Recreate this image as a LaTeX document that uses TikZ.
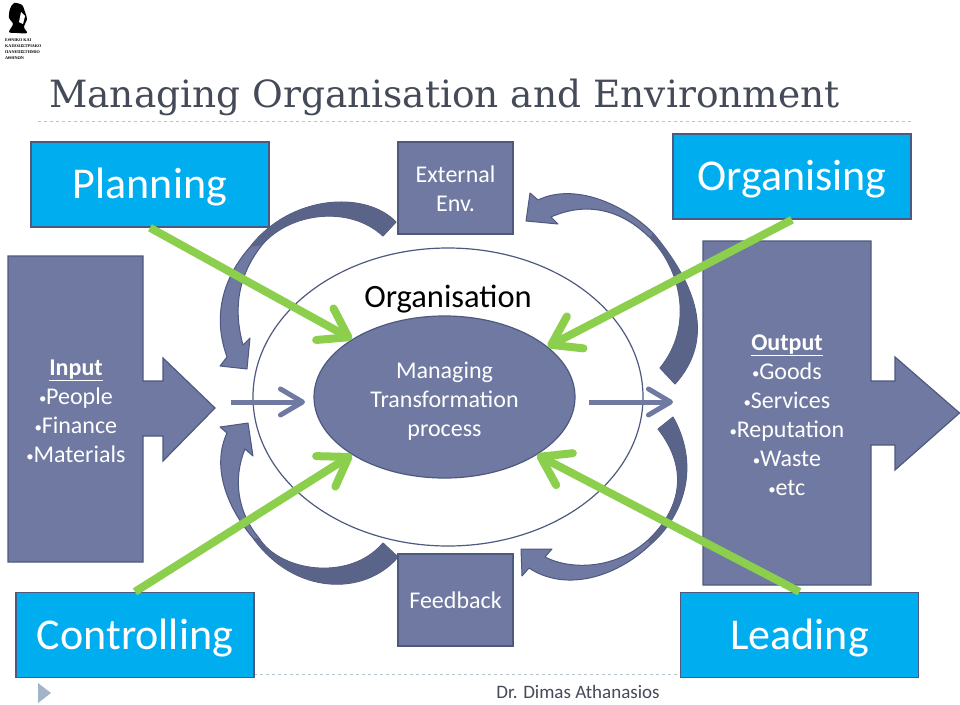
\documentclass[tikz,border=0pt]{standalone}
\usepackage{fontspec}
\setmainfont{Carlito}
\newfontfamily\titlefont{DejaVu Serif}
\newfontfamily\logofont{Liberation Serif}
\usepackage{xcolor}
\usetikzlibrary{arrows.meta,shapes.geometric}
\definecolor{slateblue}{RGB}{111,121,161}
\definecolor{slatedark}{RGB}{90,100,136}
\definecolor{slateline}{RGB}{78,89,128}
\definecolor{skycyan}{RGB}{0,174,239}
\definecolor{leafgreen}{RGB}{140,207,77}
\definecolor{titlegrey}{RGB}{68,74,88}
\definecolor{dashgrey}{RGB}{184,196,204}
\definecolor{markblue}{RGB}{162,180,200}
\newcommand{\bul}{\makebox[7pt]{\raisebox{1pt}{\scalebox{.62}{•}}}}
\begin{document}
\begin{tikzpicture}[x=1pt,y=-1pt,
          topbox/.style={draw=slateline,fill=skycyan,line width=1.5pt,text=white,
                      minimum width=238pt,minimum height=85pt,inner sep=0pt,
                      text height=28pt,text depth=0pt,
                      font=\fontsize{44}{48}\selectfont},
          envbox/.style={draw=slateline,fill=slateblue,line width=1.2pt,text=white,
                      minimum width=115pt,minimum height=92pt,inner sep=0pt,align=center,
                      font=\fontsize{24}{28.5}\selectfont},
          bodytext/.style={text=white,align=center,inner sep=0pt,
                      font=\fontsize{24}{29}\selectfont},
          blockarrow/.style={draw=slateline,fill=slateblue,line width=1.2pt},
          curvearrow/.style={draw=slateline,fill=slateblue,line width=1pt,line join=round},
          curvedark/.style={fill=slatedark},
          greenarrow/.style={draw=leafgreen,line width=8pt,
                      -{Straight Barb[length=27pt,width=36pt,line width=8pt,round]}},
          greyarrow/.style={draw=slateblue,line width=5pt,
                      -{Straight Barb[length=22pt,width=26pt,line width=5pt,round]}}]
        \useasboundingbox (0,0) rectangle (960,704);
        \fill[white] (0,0) rectangle (960,704);
        \draw[dashgrey,line width=1pt,dashed] (38,121) -- (912,121);
        \draw[dashgrey,line width=1pt,dashed] (38,674) -- (912,674);
        \fill[markblue] (38,683) -- (51,693) -- (38,703) -- cycle;
        \fill[black] plot[smooth cycle] coordinates {(14,3) (22,5) (25,12) (27,19) (24,27)
          (27,33) (17,33) (9,32) (13,24) (9,18) (10,9)};
        \fill[white] (21,12) -- (25,16) -- (23,24) -- (19,22) -- cycle;
        \node[anchor=west,inner sep=0pt,align=left,text=black,
              font=\logofont\bfseries\fontsize{4.2}{6}\selectfont] (logotext) at (5,49.5)
          {ΕΘΝΙΚΟ ΚΑΙ\\ΚΑΠΟΔΙΣΤΡΙΑΚΟ\\ΠΑΝΕΠΙΣΤΗΜΙΟ\\ΑΘΗΝΩΝ};
        \node[anchor=base west,inner sep=0pt,text=titlegrey,
              font=\titlefont\fontsize{37.5}{42}\selectfont] (title) at (49,107)
          {Managing Organisation and Environment};
        \draw[curvearrow] (396,222) .. controls (365,190) and (290,195) .. (250,247)
          .. controls (228,272) and (210,310) .. (227,357)
          -- (220,366) -- (247,369) -- (250,338) -- (243,345)
          .. controls (234,312) and (236,278) .. (262,245)
          .. controls (290,212) and (350,205) .. (383,236) -- cycle;
        \fill[curvedark] (396,222) .. controls (365,190) and (290,195) .. (250,247)
          -- (262,245) .. controls (290,212) and (350,205) .. (383,236) -- cycle;
        \draw[curvearrow] (398,557) .. controls (365,596) and (295,596) .. (253,538)
          .. controls (225,505) and (212,465) .. (227,433)
          -- (220,427) -- (248,423) -- (253,456) -- (245,449)
          .. controls (233,478) and (237,512) .. (259,538)
          .. controls (280,572) and (350,582) .. (383,543) -- cycle;
        \fill[curvedark] (398,557) .. controls (365,596) and (295,596) .. (253,538)
          -- (259,538) .. controls (280,572) and (350,582) .. (383,543) -- cycle;
        \draw[curvearrow] (675,384) .. controls (710,345) and (705,295) .. (653,233)
          .. controls (625,205) and (575,182) .. (538,200)
          -- (530,193) -- (526,221) -- (558,224) -- (551,217)
          .. controls (585,202) and (620,208) .. (650,238)
          .. controls (680,268) and (695,325) .. (660,368) -- cycle;
        \fill[curvedark] (675,384) .. controls (710,345) and (705,295) .. (653,233)
          -- (650,238) .. controls (680,268) and (695,325) .. (660,368) -- cycle;
        \draw[curvearrow] (673,417) .. controls (700,465) and (685,515) .. (650,545)
          .. controls (615,578) and (565,592) .. (529,568)
          -- (522,576) -- (521,549) -- (552,549) -- (545,557)
          .. controls (570,570) and (615,570) .. (648,540)
          .. controls (680,510) and (690,470) .. (658,429) -- cycle;
        \fill[curvedark] (673,417) .. controls (700,465) and (685,515) .. (650,545)
          -- (648,540) .. controls (680,510) and (690,470) .. (658,429) -- cycle;
        \draw[blockarrow] (8,256) -- (143,256) -- (143,381) -- (163,381) -- (163,358) -- (215,408)
          -- (163,461) -- (163,436) -- (143,436) -- (143,562) -- (8,562) -- cycle;
        \draw[blockarrow] (703,241) -- (871,241) -- (871,381) -- (895,381) -- (895,357) -- (959.5,413)
          -- (895,470) -- (895,445) -- (871,445) -- (871,585) -- (703,585) -- cycle;
        \node[bodytext] (inputtext) at (76,411)
          {\textbf{\underline{Input}}\\\bul People\\\bul Finance\\\bul Materials};
        \node[bodytext] (outputtext) at (787,415)
          {\textbf{\underline{Output}}\\\bul Goods\\\bul Services\\\bul Reputation\\\bul Waste\\\bul etc};
        \node[draw=slateline,line width=1.2pt,ellipse,minimum width=390pt,minimum height=298pt,
              inner sep=0pt] (org) at (448,397) {};
        \node[inner sep=0pt,text=black,font=\fontsize{32.5}{36}\selectfont] (orglabel) at (448,299.5) {Organisation};
        \node[draw=slateline,fill=slateblue,line width=1.2pt,ellipse,minimum width=261pt,
              minimum height=162pt,inner sep=0pt] (manage) at (444.5,397) {};
        \node[bodytext] (managetext) at (444.5,401) {Managing\\Transformation\\process};
        \node[envbox] (external) at (455.5,188) {};
        \node[bodytext,font=\fontsize{24}{28.5}\selectfont] (externaltext) at (455.5,189) {External\\Env.};
        \node[envbox] (feedback) at (455.5,600) {Feedback};
        \node[topbox] (planning) at (150,184.5) {Planning};
        \node[topbox] (organising) at (792,176.5) {Organising};
        \node[topbox] (controlling) at (135,635) {Controlling};
        \node[topbox] (leading) at (799.5,635) {Leading};
        \node[inner sep=0pt,text=titlegrey,font=\fontsize{19}{24}\selectfont] (author) at (578,692) {Dr. Dimas Athanasios};
        \coordinate (inleft) at (231,402);
        \coordinate (inright) at (305,402);
        \coordinate (outleft) at (589,402);
        \coordinate (outright) at (673,402);
        \draw[greyarrow] (inleft) -- (inright);
        \draw[greyarrow] (outleft) -- (outright);
        \draw[greenarrow] (planning.south) -- (manage.148);
        \draw[greenarrow] (organising.south) -- (manage.26);
        \draw[greenarrow] (controlling.north) -- (manage.212);
        \draw[greenarrow] (leading.north) -- (manage.328);
      \end{tikzpicture}
\end{document}
